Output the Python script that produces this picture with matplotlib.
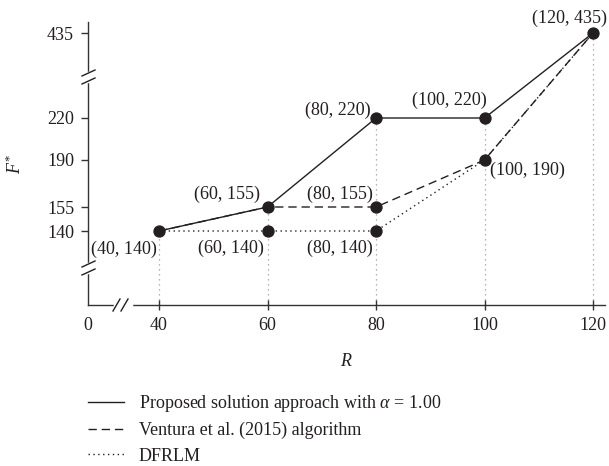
import numpy as np
import matplotlib
matplotlib.use("Agg")
import matplotlib.pyplot as plt
from matplotlib.lines import Line2D

plt.rcParams['font.family'] = ['Liberation Serif', 'DejaVu Serif']
plt.rcParams['mathtext.fontset'] = 'custom'
plt.rcParams['mathtext.rm'] = 'Liberation Serif'
plt.rcParams['mathtext.it'] = 'Liberation Serif:italic'

# data
R = [40, 60, 80, 100, 120]
proposed = [140, 155, 220, 220, 435]
ventura = [140, 155, 155, 190, 435]
dfrlm = [140, 140, 140, 190, 435]
labels = ['Proposed solution approach with $\\alpha$ = 1.00',
          'Ventura et al. (2015) algorithm',
          'DFRLM']
xticks = [0, 40, 60, 80, 100, 120]
yticks = [140, 155, 190, 220, 435]

W, H = 609, 466
INK = '#231f20'
FS = 13

# broken axes done with piecewise linear scales (pixel positions)
xr = [0, 40, 120, 200]
xp = [88, 159, 593, 593 + 80 * 5.425]
yr = [0, 140, 155, 190, 220, 435, 600]
yp = [235 - 140 * 1.41, 235, 259, 306, 348, 433, 433 + 165 * 85 / 215]

def fx(v): return np.interp(v, xr, xp)
def fxi(p): return np.interp(p, xp, xr)
def fy(v): return np.interp(v, yr, yp)
def fyi(p): return np.interp(p, yp, yr)

fig = plt.figure(figsize=(W / 100, H / 100), dpi=100)
ax_l, ax_r, ax_t, ax_b = 88, 605, 22, 305
ax = fig.add_axes([ax_l / W, (H - ax_b) / H, (ax_r - ax_l) / W, (ax_b - ax_t) / H])
ax.set_xscale('function', functions=(fx, fxi))
ax.set_yscale('function', functions=(fy, fyi))
ax.set_xlim(fxi(ax_l), fxi(ax_r))
ax.set_ylim(fyi(H - ax_b), fyi(H - ax_t))

ybot = ax.get_ylim()[0]
for x, top in zip(R, np.max([proposed, ventura, dfrlm], axis=0)):
    ax.plot([x, x], [ybot, top], color='#9a9a9a', lw=0.9, ls=(0, (1, 3)), zorder=1)

ax.plot(R, proposed, color=INK, lw=1.0, ls='-', label=labels[0], zorder=3)
ax.plot(R, ventura, color=INK, lw=1.0, ls=(0, (6, 3.5)), label=labels[1], zorder=3)
ax.plot(R, dfrlm, color=INK, lw=1.0, ls=(0, (1, 2.5)), label=labels[2], zorder=3)

pts = sorted(set(zip(R * 3, proposed + ventura + dfrlm)))
ax.scatter([p[0] for p in pts], [p[1] for p in pts], s=62, color=INK, zorder=4,
           clip_on=False)

# (point, dx px, dy px, ha)
notes = [((40, 140), -2, -18, 'right'), ((60, 155), -7, 13, 'right'),
         ((60, 140), -4, -17, 'right'), ((80, 155), -3, 13, 'right'),
         ((80, 140), -3, -17, 'right'), ((80, 220), -5, 8, 'right'),
         ((100, 220), 2, 18, 'right'), ((120, 435), 14, 15, 'right'),
         ((100, 190), 5, -10, 'left')]
for (x, y), dx, dy, ha in notes:
    ax.annotate('(%d, %d)' % (x, y), (x, y), xytext=(dx * 0.72, dy * 0.72),
                textcoords='offset points', ha=ha, va='center', fontsize=FS,
                color=INK, annotation_clip=False)

for s in ['top', 'right']:
    ax.spines[s].set_visible(False)
for s in ['left', 'bottom']:
    ax.spines[s].set_color('#333333')
    ax.spines[s].set_linewidth(1.0)

ax.set_xticks(xticks)
ax.set_xticklabels([str(v) for v in xticks])
ax.set_yticks(yticks)
ax.set_yticklabels([str(v) for v in yticks])
ax.xaxis.set_minor_locator(matplotlib.ticker.NullLocator())
ax.yaxis.set_minor_locator(matplotlib.ticker.NullLocator())
ax.tick_params(axis='x', direction='inout', length=7, width=1.0, color='#333333',
               labelsize=FS, labelcolor=INK, pad=5)
ax.tick_params(axis='y', direction='out', length=5, width=1.0, color='#333333',
               labelsize=FS, labelcolor=INK, pad=5)
ax.xaxis.get_major_ticks()[0].tick1line.set_visible(False)

ax.set_xlabel('$R$', fontsize=FS, color=INK, labelpad=14)
ax.set_ylabel('$F^{*}$', fontsize=FS, color=INK, labelpad=16)


def px(x, y):
    return x / W, (H - y) / H


def seg(p0, p1, color=INK, lw=1.0):
    (x0, y0), (x1, y1) = px(*p0), px(*p1)
    fig.add_artist(Line2D([x0, x1], [y0, y1], color=color, lw=lw,
                          transform=fig.transFigure, zorder=10))

# y-axis breaks
for yc in [77, 268]:
    seg((88, yc - 4), (88, yc + 4), color='white', lw=2.5)
    seg((82, yc - 1), (95, yc - 7))
    seg((82, yc + 7), (95, yc + 1))
# x-axis break
seg((115, 305), (131, 305), color='white', lw=2.5)
seg((113, 311), (120, 299))
seg((121, 311), (128, 299))

fig.legend(loc='upper left', bbox_to_anchor=px(88, 393), frameon=False,
           fontsize=FS, borderpad=0, borderaxespad=0, handlelength=2.0,
           handletextpad=0.8, labelspacing=0.45, labelcolor=INK)

fig.savefig('out.png', dpi=100)
